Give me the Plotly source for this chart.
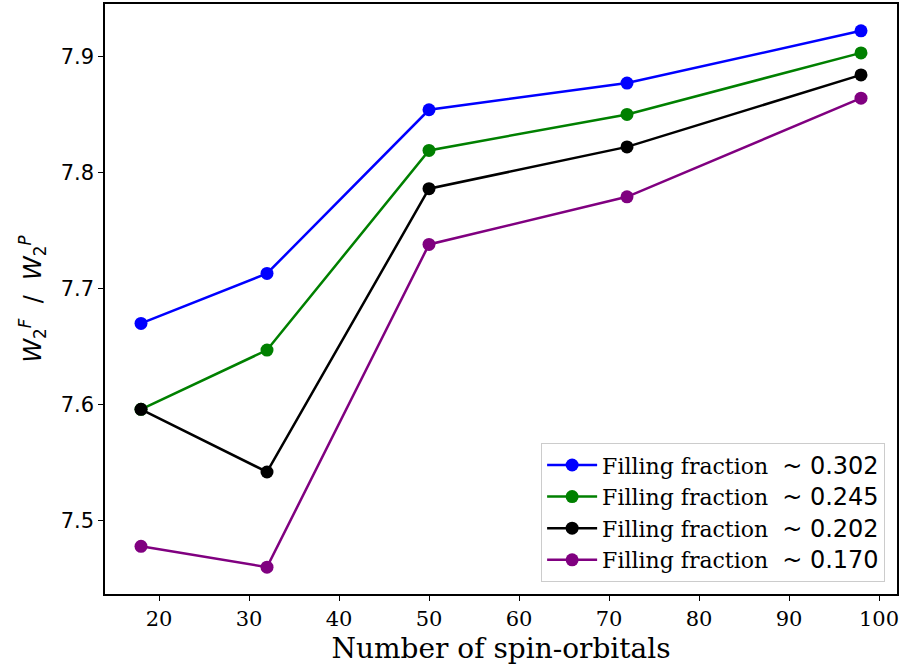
import plotly.graph_objects as go

x_orbitals = [18, 32, 50, 72, 98]
fractions = ["0.302", "0.245", "0.202", "0.170"]
colors = ["blue", "green", "black", "purple"]
ratio_0302 = [7.670, 7.713, 7.854, 7.877, 7.922]
ratio_0245 = [7.596, 7.647, 7.819, 7.850, 7.903]
ratio_0202 = [7.596, 7.542, 7.786, 7.822, 7.884]
ratio_0170 = [7.478, 7.460, 7.738, 7.779, 7.864]
series = [ratio_0302, ratio_0245, ratio_0202, ratio_0170]

fig = go.Figure()
for frac, col, ys in zip(fractions, colors, series):
    fig.add_trace(go.Scatter(
        x=x_orbitals, y=ys, mode="lines+markers",
        line=dict(color=col, width=2.5),
        marker=dict(color=col, size=13),
        name=f"Filling fraction  <span style='font-family:DejaVu Sans;font-size:24px'>~ {frac}</span>",
    ))

fig.update_layout(
    width=900, height=668,
    margin=dict(l=105, r=3, t=4, b=74),
    paper_bgcolor="white", plot_bgcolor="white",
    showlegend=True,
    legend=dict(
        x=0.985, y=0.02, xanchor="right", yanchor="bottom",
        bgcolor="rgba(255,255,255,0.8)", bordercolor="#cccccc", borderwidth=1,
        font=dict(family="DejaVu Serif", size=22, color="black"),
        itemwidth=50, tracegroupgap=0,
    ),
    xaxis=dict(
        range=[14, 102], tickvals=[20, 30, 40, 50, 60, 70, 80, 90, 100],
        showgrid=False, zeroline=False, automargin=False,
        showline=True, linecolor="black", linewidth=1.5, mirror=True,
        ticks="outside", ticklen=5, tickwidth=1.2, tickcolor="black",
        tickfont=dict(family="DejaVu Serif", size=21, color="black"),
        title=dict(text="Number of spin-orbitals",
                   font=dict(family="DejaVu Serif", size=28, color="black"), standoff=8),
    ),
    yaxis=dict(
        range=[7.4369, 7.9451], tickvals=[7.5, 7.6, 7.7, 7.8, 7.9],
        tickformat=".1f",
        showgrid=False, zeroline=False, automargin=False,
        showline=True, linecolor="black", linewidth=1.5, mirror=True,
        ticks="outside", ticklen=5, tickwidth=1.2, tickcolor="black",
        tickfont=dict(family="DejaVu Sans", size=21, color="black"),
        title=dict(text="<i>W</i><sub>2</sub><sup><i>F</i></sup>&nbsp; / &nbsp;<i>W</i><sub>2</sub><sup><i>P</i></sup>",
                   font=dict(family="DejaVu Sans", size=24, color="black"), standoff=12),
    ),
)

fig.write_html("out.html", config={"displayModeBar": False},
               post_script="document.body.style.margin='0';document.body.style.padding='0';")
